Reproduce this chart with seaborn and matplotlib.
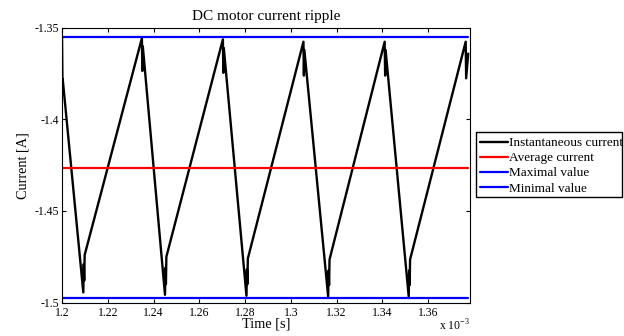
import numpy as np
import pandas as pd
import matplotlib
matplotlib.use("Agg")
import matplotlib.pyplot as plt
import seaborn as sns
from matplotlib.patches import Rectangle

sns.set_theme(style="white")
plt.rcParams['font.family'] = ['Liberation Serif', 'DejaVu Serif']
plt.rcParams['mathtext.fontset'] = 'custom'
plt.rcParams['mathtext.rm'] = 'Liberation Serif'

# ---- data (time in units of 1e-3 s, current in A) ----
time_ms = [1.2000, 1.2002, 1.2003, 1.2093, 1.2095, 1.2097, 1.2099,
           1.2349, 1.2351, 1.2353, 1.2450, 1.2452, 1.2454, 1.2456,
           1.2703, 1.2705, 1.2707, 1.2806, 1.2808, 1.2810, 1.2812,
           1.3055, 1.3057, 1.3059, 1.3163, 1.3165, 1.3167, 1.3169,
           1.3410, 1.3412, 1.3414, 1.3515, 1.3517, 1.3519, 1.3521,
           1.3764, 1.3766, 1.3775]
current = [-1.3555, -1.3820, -1.3780, -1.4945, -1.4790, -1.4880, -1.4740,
           -1.3556, -1.3735, -1.3600, -1.4958, -1.4810, -1.4900, -1.4750,
           -1.3562, -1.3745, -1.3610, -1.4963, -1.4820, -1.4900, -1.4760,
           -1.3575, -1.3760, -1.3620, -1.4967, -1.4825, -1.4905, -1.4765,
           -1.3575, -1.3760, -1.3620, -1.4967, -1.4825, -1.4905, -1.4765,
           -1.3575, -1.3775, -1.3640]
span = [1.2000, 1.3775]
avg_value = -1.4267
max_value = -1.3549
min_value = -1.4974

series_names = ["Instantaneous current", "Average current",
                "Maximal value", "Minimal value"]
colors = ["black", "red", "blue", "blue"]

xticks = [1.2, 1.22, 1.24, 1.26, 1.28, 1.3, 1.32, 1.34, 1.36]
xtick_labels = ["1.2", "1.22", "1.24", "1.26", "1.28", "1.3", "1.32", "1.34", "1.36"]
yticks = [-1.5, -1.45, -1.4, -1.35]
ytick_labels = ["-1.5", "-1.45", "-1.4", "-1.35"]

df_inst = pd.DataFrame({"t": time_ms, "i": current})
df_avg = pd.DataFrame({"t": span, "i": [avg_value, avg_value]})
df_max = pd.DataFrame({"t": span, "i": [max_value, max_value]})
df_min = pd.DataFrame({"t": span, "i": [min_value, min_value]})

fig = plt.figure(figsize=(6.24, 3.36), dpi=100)
ax = fig.add_axes([0.0994, 0.0997, 0.6546, 0.817])

sns.lineplot(data=df_inst, x="t", y="i", ax=ax, color=colors[0], lw=1.7,
             label=series_names[0], sort=False, estimator=None)
sns.lineplot(data=df_avg, x="t", y="i", ax=ax, color=colors[1], lw=1.6,
             label=series_names[1], estimator=None)
sns.lineplot(data=df_max, x="t", y="i", ax=ax, color=colors[2], lw=1.6,
             label=series_names[2], estimator=None)
sns.lineplot(data=df_min, x="t", y="i", ax=ax, color=colors[3], lw=1.6,
             label=series_names[3], estimator=None)

ax.set_xlim(1.2, 1.3785)
ax.set_ylim(-1.5, -1.35)
ax.set_xticks(xticks)
ax.set_xticklabels(xtick_labels)
ax.set_yticks(yticks)
ax.set_yticklabels(ytick_labels)
ax.tick_params(direction="in", length=3, width=0.8, colors="black",
               labelsize=8.5, pad=2, top=True, right=True,
               bottom=True, left=True)
ax.tick_params(axis="x", pad=3)
for s in ax.spines.values():
    s.set_color("black")
    s.set_linewidth(0.8)

ax.set_title("DC motor current ripple", fontsize=11, pad=6, color="black")
ax.set_xlabel("Time [s]", fontsize=10.3, labelpad=-1, color="black")
ax.set_ylabel("Current [A]", fontsize=10.3, labelpad=4, color="black")

fig.text(470 / 624, 2 / 336, r"x 10$^{-3}$", ha="right", va="bottom",
         fontsize=8.5, color="black")

leg = ax.legend(loc="upper left", bbox_to_anchor=(476 / 624, 1 - 133 / 336),
                bbox_transform=fig.transFigure, frameon=False, fontsize=9.5,
                handlelength=2.1, handletextpad=0.12, labelspacing=0.22,
                borderpad=0.3, borderaxespad=0)
for t in leg.get_texts():
    t.set_color("black")
fig.patches.append(Rectangle((476 / 624, 1 - 197 / 336), (622 - 476) / 624,
                             (197 - 132) / 336, transform=fig.transFigure,
                             fill=False, edgecolor="black", linewidth=1.0,
                             figure=fig))

fig.savefig("out.png", dpi=100)
